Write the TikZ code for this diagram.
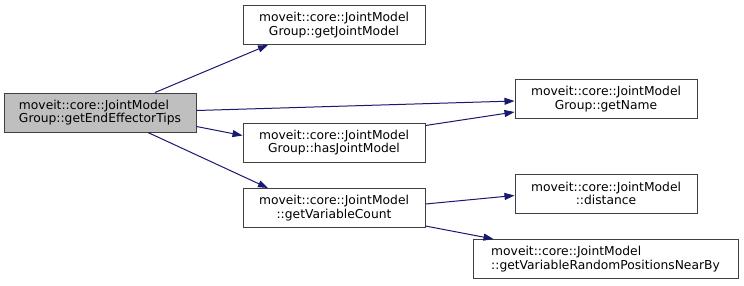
\documentclass[tikz,border=0pt]{standalone}
\usepackage{fontspec}
\setmainfont{DejaVu Sans}
\usetikzlibrary{arrows.meta}
\definecolor{edgeblue}{HTML}{191970}
\definecolor{nodegray}{HTML}{BFBFBF}
\definecolor{framegray}{HTML}{404040}
\tikzset{
  fn/.style={draw=framegray, line width=1pt, fill=white, minimum height=39pt,
    inner sep=0pt, align=center, font=\fontsize{12.3}{13.4}\selectfont},
  edge/.style={draw=edgeblue, line width=1pt,
    -{Triangle[length=10pt,width=7pt]}},
}
\begin{document}
\begin{tikzpicture}[x=1pt,y=-1pt]
\useasboundingbox (0,0) rectangle (744,285);

% nodes of the call graph
\node[fn, fill=nodegray, minimum width=192pt, align=left] (A) at (100,112.5)
  {moveit::core::JointModel\\Group::getEndEffectorTips};
\node[fn, minimum width=182pt] (B) at (334,25)
  {moveit::core::JointModel\\Group::getJointModel};
\node[fn, minimum width=182pt] (D) at (334,142.5)
  {moveit::core::JointModel\\Group::hasJointModel};
\node[fn, minimum width=182pt] (E) at (334,208)
  {moveit::core::JointModel\\::getVariableCount};
\node[fn, minimum width=182pt] (C) at (606,99)
  {moveit::core::JointModel\\Group::getName};
\node[fn, minimum width=182pt] (F) at (606,193.5)
  {moveit::core::JointModel\\::distance};
\node[fn, minimum width=265pt, align=left] (G) at (605.5,259)
  {moveit::core::JointModel\\::getVariableRandomPositionsNearBy};

% calls (yshift is measured upwards)
\draw[edge] ([xshift=55pt]A.north) -- ([xshift=-66pt]B.south);
\draw[edge] ([yshift=2pt]A.east) -- ([yshift=-2pt]C.west);
\draw[edge] ([yshift=-14pt]A.east) -- ([yshift=7pt]D.west);
\draw[edge] ([xshift=48pt]A.south) -- ([xshift=-66pt]E.north);
\draw[edge] ([yshift=17pt]D.east) -- ([yshift=-13pt]C.west);
\draw[edge] ([yshift=4pt]E.east) -- ([yshift=-2pt]F.west);
\draw[edge] ([yshift=-18pt]E.east) -- ([xshift=-112pt]G.north);
\end{tikzpicture}
\end{document}
